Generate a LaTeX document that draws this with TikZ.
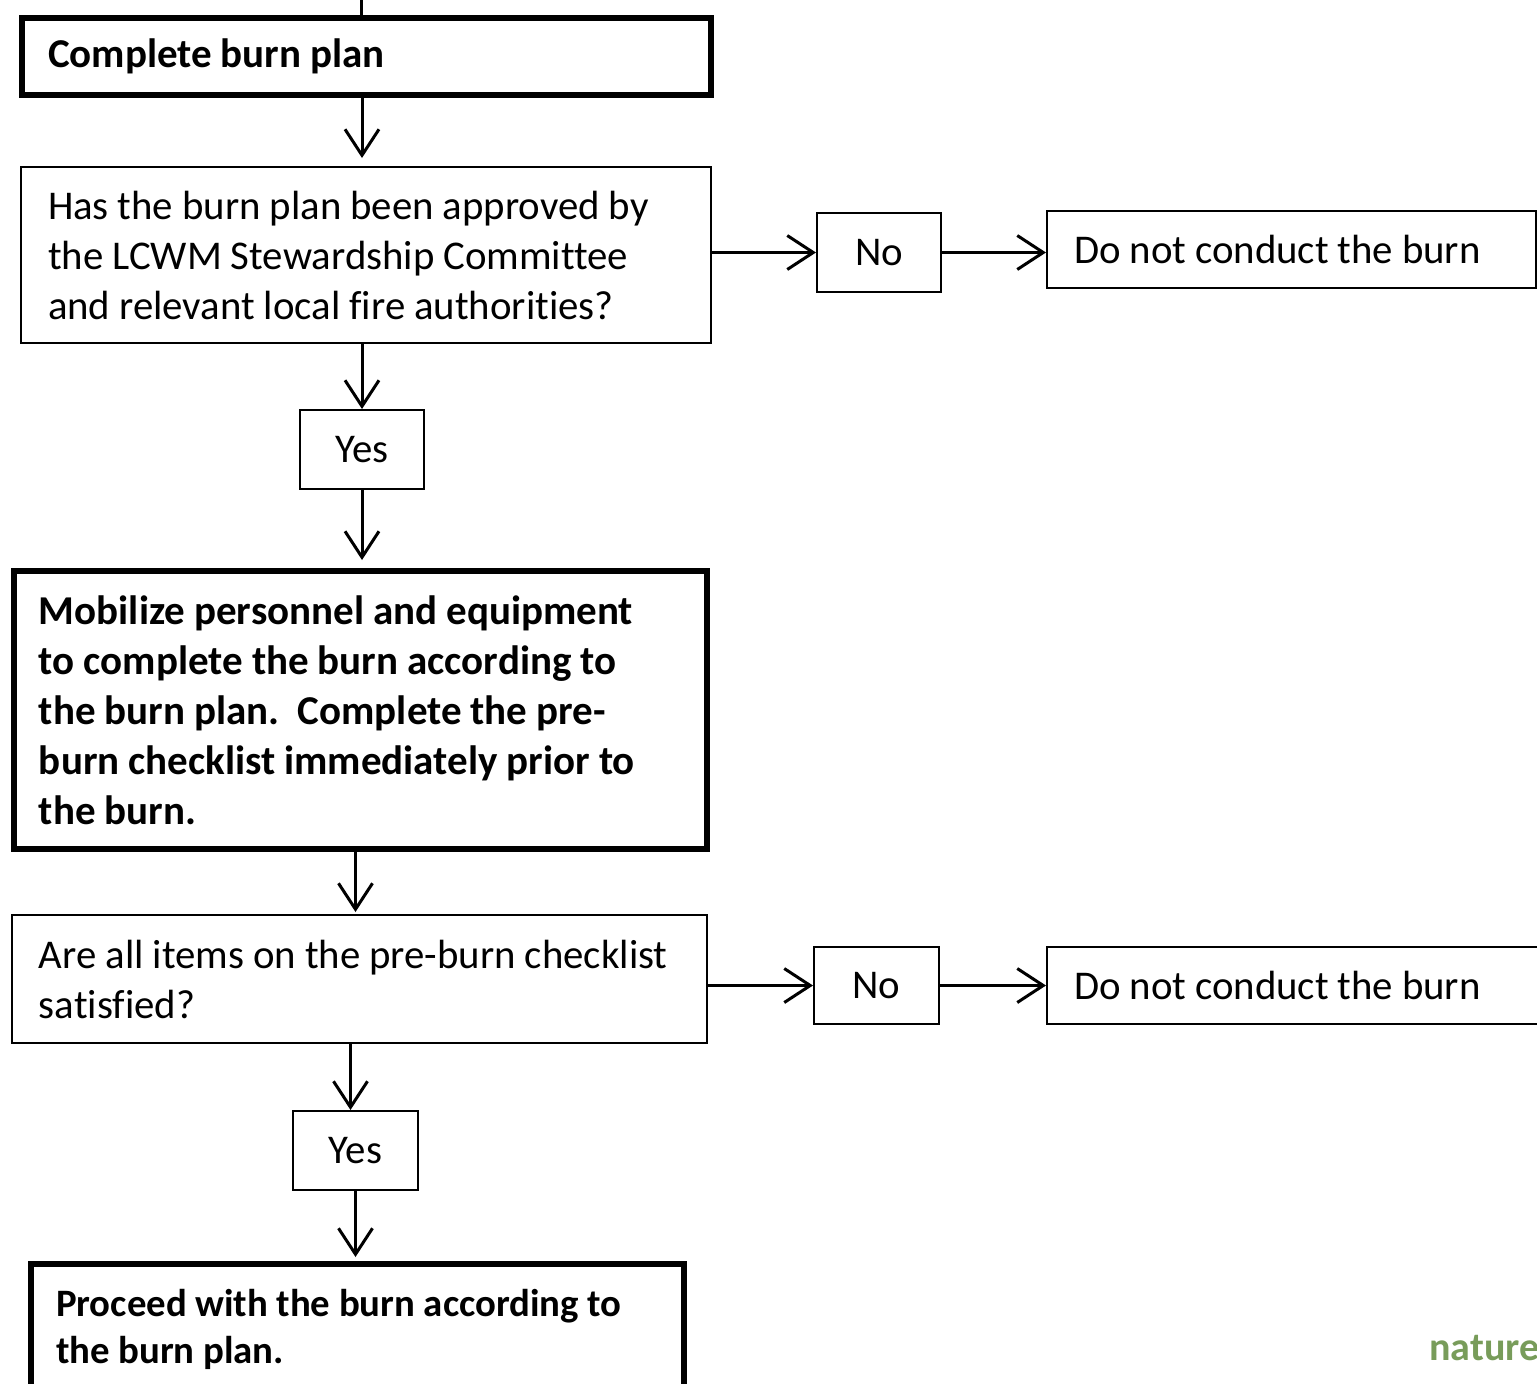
\documentclass[tikz,border=0pt]{standalone}
\usepackage{fontspec}
\setmainfont{Carlito}[Ligatures=NoCommon]
\usetikzlibrary{arrows.meta}
\definecolor{naturegreen}{RGB}{120,156,90}
\newcommand\tightwords{\spaceskip=.22em\xspaceskip=.3em\relax}

\begin{document}
\begin{tikzpicture}[%
        x=0.5pt, y=-0.5pt,
        font=\fontsize{20.4}{25}\selectfont,
        box/.style={draw, line width=1pt, rectangle, anchor=north west,
            inner ysep=0pt, align=left, execute at begin node=\tightwords},
        thickbox/.style={box, line width=3pt,
            font=\fontsize{20.5}{25}\selectfont\bfseries},
        answer/.style={box, align=center, inner sep=0pt,
            minimum width=62pt, minimum height=39.5pt},
        flow/.style={line width=1.5pt, -{Straight Barb[length=13pt,width=17pt]}},
        >=Straight Barb % arrow tips
        ]
            \useasboundingbox (0,0) rectangle (1537,1383);
            \clip (0,0) rectangle (1537,1383);

            % boxes
            \node[thickbox, inner xsep=13pt, text width=318.5pt, minimum height=38.5pt]
                (plan) at (19,15) {Complete burn plan};
            \node[box, inner xsep=13.5pt, text width=318pt, minimum height=88pt]
                (qA) at (20,166) {Has the burn plan been approved by\\
                    the LCWM Stewardship Committee\\
                    and relevant local fire authorities?};
            \node[answer] (noA) at (816,212) {No};
            \node[box, inner xsep=13.5pt, text width=217.5pt, minimum height=38.5pt]
                (stopA) at (1046,210) {Do not conduct the burn};
            \node[answer] (yesA) at (299,409) {Yes};
            \node[thickbox, inner xsep=12.5pt, text width=321.5pt, minimum height=139pt]
                (mob) at (11,568) {\mbox{Mobilize personnel and equipment}\\
                    \mbox{to complete the burn according to}\\
                    \mbox{the burn plan.\ \ Complete the pre-}\\
                    \mbox{burn checklist immediately prior to}\\
                    the burn.};
            \node[box, inner xsep=13.5pt, text width=320.5pt, minimum height=64pt]
                (qB) at (11,914) {\mbox{Are all items on the pre-burn checklist}\\
                    satisfied?};
            \node[answer, minimum width=62.5pt, minimum height=38.5pt] (noB) at (813,946) {No};
            \node[box, inner xsep=13.5pt, text width=233pt, minimum height=38.5pt]
                (stopB) at (1046,946) {Do not conduct the burn};
            \node[answer, minimum width=62.5pt] (yesB) at (292,1110) {Yes};
            \node[thickbox, inner xsep=12.5pt, text width=301.5pt, minimum height=65pt,
                font=\fontsize{19.4}{23.5}\selectfont\bfseries]
                (proc) at (28,1261) {\mbox{Proceed with the burn according to}\\
                    the burn plan.};
            \node[anchor=west, inner sep=0pt, text=naturegreen,
                font=\fontsize{20}{24}\selectfont\bfseries]
                (mark) at (1429,1348) {naturer};

            % connectors
            \coordinate (topin) at (361,-10);
            \draw[line width=1.5pt] (topin) -- (plan.north -| topin);
            \draw[flow, shorten >=4pt] (plan.south -| yesA) -- (qA.north -| yesA);
            \draw[flow] (qA.south -| yesA) -- (yesA.north);
            \draw[flow, shorten >=4pt] (yesA.south) -- (mob.north -| yesA);
            \draw[flow, shorten >=1pt] (mob.south -| yesB) -- (qB.north -| yesB);
            \draw[flow] ([xshift=-2.5pt]qB.south -| yesB) -- ([xshift=-2.5pt]yesB.north);
            \draw[flow, shorten >=2pt] (yesB.south) -- (proc.north -| yesB);
            \draw[flow] (qA.east |- noA.west) -- (noA.west);
            \draw[flow] (noA.east) -- (stopA.west |- noA.east);
            \draw[flow] (qB.east |- noB.west) -- (noB.west);
            \draw[flow] (noB.east) -- (stopB.west |- noB.east);
        \end{tikzpicture}
\end{document}
